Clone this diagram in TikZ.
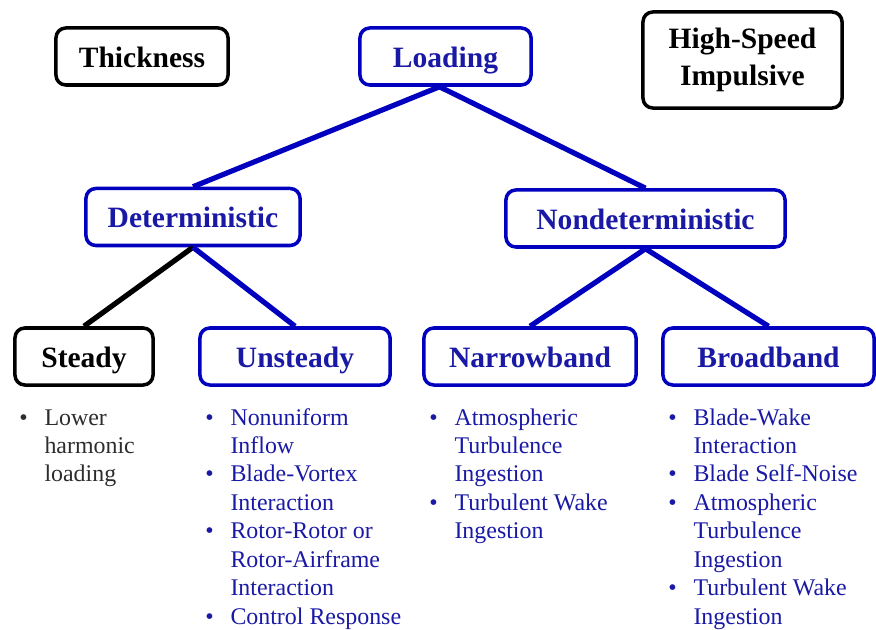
\documentclass[tikz,border=0pt]{standalone}
\usepackage{fontspec}
\setmainfont{Liberation Serif}
\usepackage{xcolor}
\definecolor{treeBlue}{RGB}{0,0,190}
\definecolor{textBlue}{RGB}{25,25,165}
\definecolor{textGray}{RGB}{45,45,45}
\newcommand{\headfont}{\fontsize{21}{26}\bfseries\selectfont}
\newcommand{\listfont}{\fontsize{17}{20.2}\selectfont}
\newcommand{\bulletlist}[1]{\begin{tabular}{@{}l@{\hspace{12pt}}l@{}}#1\end{tabular}}

\tikzset{
  box/.style={rectangle, rounded corners=7pt, line width=2.5pt, minimum height=1.425cm, inner sep=0pt, align=center, font=\headfont},
  oneline/.style={text height=17pt, text depth=1.4pt},
  bluebox/.style={box, oneline, draw=treeBlue, text=textBlue},
  blackbox/.style={box, draw=black, text=black},
  link/.style={line width=3.7pt, treeBlue},
  bullets/.style={anchor=north west, inner sep=0pt, font=\listfont, text=textBlue}
}

\begin{document}
\begin{tikzpicture}[x=0.025cm, y=-0.025cm]
    \useasboundingbox (0,0) rectangle (876,630);
    % Top row
    \node[blackbox, oneline, minimum width=4.3cm] (thick) at (142,56.5) {Thickness};
    \node[bluebox, minimum width=4.275cm] (load) at (445.5,56.5) {Loading};
    \node[blackbox, minimum width=4.975cm, minimum height=2.4cm] (hsi) at (742.5,60) {High-Speed\\Impulsive};

    % Second row
    \node[bluebox, minimum width=5.35cm] (det) at (193,217) {Deterministic};
    \node[bluebox, minimum width=6.975cm] (nondet) at (645.5,218.5) {Nondeterministic};

    % Third row
    \node[blackbox, oneline, minimum width=3.45cm] (steady) at (84,356.5) {Steady};
    \node[bluebox, minimum width=4.75cm] (unsteady) at (295,356.5) {Unsteady};
    \node[bluebox, minimum width=5.3cm] (narrow) at (530,356.5) {Narrowband};
    \node[bluebox, minimum width=5.275cm] (broad) at (768.5,356.5) {Broadband};

    % Links
    \draw[link] ([xshift=-0.15cm]load.south) -- (det.north);
    \draw[link] ([xshift=-0.15cm]load.south) -- (nondet.north);
    \draw[link, black] (det.south) -- (steady.north);
    \draw[link] (det.south) -- (unsteady.north);
    \draw[link] (nondet.south) -- (narrow.north);
    \draw[link] (nondet.south) -- (broad.north);

    % Item lists
    \node[bullets, text=textGray] (steadyitems) at (19,405) {\bulletlist{%
        \textbullet & Lower\\ & harmonic\\ & loading}};
    \node[bullets] (unsteadyitems) at (205,405) {\bulletlist{%
        \textbullet & Nonuniform\\ & Inflow\\
        \textbullet & Blade-Vortex\\ & Interaction\\
        \textbullet & Rotor-Rotor or\\ & Rotor-Airframe\\ & Interaction\\
        \textbullet & Control Response}};
    \node[bullets] (narrowitems) at (429,405) {\bulletlist{%
        \textbullet & Atmospheric\\ & Turbulence\\ & Ingestion\\
        \textbullet & Turbulent Wake\\ & Ingestion}};
    \node[bullets] (broaditems) at (668,405) {\bulletlist{%
        \textbullet & Blade-Wake\\ & Interaction\\
        \textbullet & Blade Self-Noise\\
        \textbullet & Atmospheric\\ & Turbulence\\ & Ingestion\\
        \textbullet & Turbulent Wake\\ & Ingestion}};
\end{tikzpicture}
\end{document}
